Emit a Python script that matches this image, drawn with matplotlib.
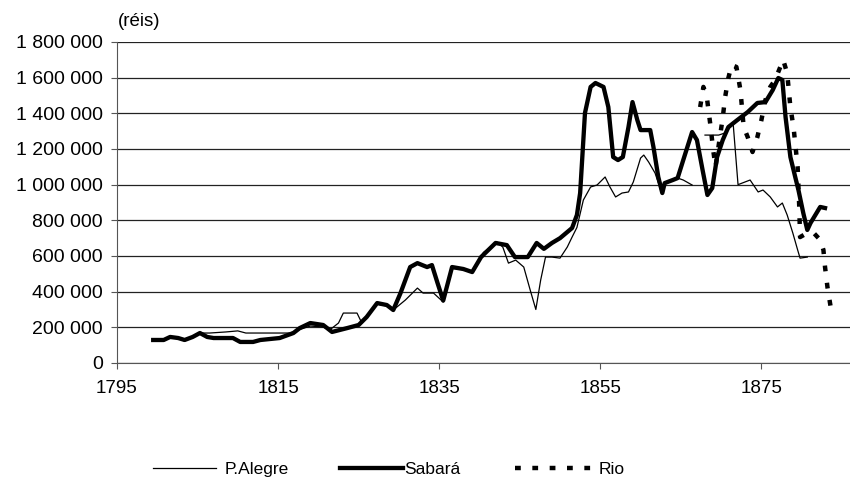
import numpy as np
import matplotlib
matplotlib.use('Agg')
import matplotlib.pyplot as plt
from matplotlib.ticker import FuncFormatter

plt.rcParams['font.family'] = ['Liberation Sans', 'DejaVu Sans']

# Sabará (thick line), values in thousand réis
sabara_years = [1799.5, 1800.8, 1801.6, 1802.6, 1803.4, 1804.4, 1805.3, 1806.2, 1807.0, 1809.4,
                1810.3, 1811.9, 1812.8, 1815.2, 1816.9, 1817.7, 1819.0, 1820.6, 1821.7, 1823.6,
                1825.0, 1826.0, 1827.3, 1828.5, 1829.3, 1830.2, 1831.4, 1832.3, 1833.5, 1834.1,
                1834.8, 1835.5, 1836.6, 1838.0, 1839.1, 1840.2, 1842.0, 1843.4, 1844.4, 1846.0,
                1847.1, 1848.0, 1849.0, 1850.0, 1851.5, 1852.1, 1852.5, 1853.1, 1853.8, 1854.4,
                1855.4, 1856.0, 1856.6, 1857.2, 1857.8, 1858.5, 1859.0, 1859.6, 1860.0, 1861.2,
                1861.6, 1862.2, 1862.7, 1863.0, 1864.0, 1864.6, 1865.3, 1866.4, 1867.0, 1867.7,
                1868.3, 1868.9, 1869.5, 1870.2, 1870.9, 1872.0, 1873.3, 1874.5, 1875.5, 1876.4,
                1877.1, 1877.6, 1878.0, 1878.6, 1879.2, 1879.6, 1880.2, 1880.7, 1881.1, 1881.7,
                1882.3, 1882.9]
sabara_vals = [129, 129, 146, 140, 129, 146, 168, 146, 140, 140,
               118, 118, 129, 140, 168, 196, 224, 213, 174, 196,
               213, 258, 336, 325, 297, 392, 538, 560, 538, 549,
               448, 350, 538, 527, 510, 594, 673, 661, 594, 594,
               673, 640, 673, 700, 757, 830, 953, 1402, 1548, 1570,
               1548, 1435, 1155, 1138, 1155, 1323, 1463, 1362, 1306, 1306,
               1211, 1043, 953, 1009, 1026, 1037, 1138, 1295, 1250, 1082,
               942, 981, 1155, 1250, 1323, 1362, 1407, 1458, 1463, 1530,
               1598, 1587, 1379, 1155, 1043, 970, 841, 746, 785, 830,
               875, 869]

# P.Alegre (thin line), gap after 1866
alegre_years = [1799.5, 1800.8, 1801.6, 1802.6, 1803.4, 1804.4, 1805.3, 1806.5, 1808.5, 1810.0,
                1811.0, 1816.5, 1817.5, 1819.0, 1820.6, 1821.4, 1822.5, 1823.1, 1824.8, 1825.4,
                1826.0, 1827.3, 1828.5, 1829.3, 1830.8, 1832.3, 1833.0, 1834.3, 1835.5, 1836.6,
                1838.0, 1839.1, 1840.5, 1842.2, 1842.9, 1843.6, 1844.5, 1845.5, 1846.3, 1847.0,
                1847.6, 1848.2, 1849.0, 1850.0, 1850.9, 1851.5, 1852.1, 1852.9, 1853.8, 1854.6,
                1855.6, 1856.2, 1856.9, 1857.7, 1858.5, 1859.1, 1860.0, 1860.4, 1861.0, 1861.8,
                1862.5, 1863.2, 1864.6, 1865.3, 1866.4, 1867.2, 1868.0, 1869.7, 1870.5, 1871.5,
                1872.1, 1873.6, 1874.6, 1875.2, 1876.1, 1877.0, 1877.6, 1878.2, 1878.9, 1879.5,
                1879.8, 1880.7]
alegre_vals = [129, 129, 146, 140, 129, 146, 168, 168, 174, 180,
               168, 168, 185, 207, 202, 185, 224, 280, 280, 224,
               258, 330, 320, 297, 353, 420, 392, 392, 342, 530,
               527, 510, 620, 678, 650, 560, 577, 538, 409, 300,
               465, 594, 594, 588, 650, 706, 760, 914, 987, 998,
               1043, 987, 931, 953, 959, 1015, 1149, 1166, 1127, 1065,
               970, 1010, 1037, 1026, 998, np.nan, 1278, 1278, 1290, 1340,
               1000, 1026, 959, 970, 931, 875, 897, 830, 729, 634,
               588, 594]

# Rio (dashed)
rio_years = [1867.4, 1867.8, 1868.2, 1868.7, 1869.0, 1869.3, 1870.2, 1870.5, 1870.9, 1871.3,
             1871.9, 1872.4, 1872.8, 1873.3, 1873.9, 1874.5, 1875.0, 1875.5, 1876.1, 1876.7,
             1877.7, 1878.2, 1878.6, 1879.0, 1879.5, 1879.7, 1879.8, 1880.7, 1881.5, 1882.3,
             1882.7, 1882.9, 1883.2, 1883.6]
rio_vals = [1435, 1548, 1500, 1323, 1200, 1099, 1374, 1491, 1598, 1671,
            1660, 1530, 1323, 1267, 1183, 1267, 1362, 1475, 1548, 1587,
            1700, 1626, 1435, 1318, 1099, 875, 706, 729, 729, 690,
            634, 538, 426, 314]

x_ticks = [1795, 1815, 1835, 1855, 1875]
y_ticks = list(range(0, 1800001, 200000))


def fmt_reis(v, pos):
    return f'{int(v):,}'.replace(',', ' ')


def add_key(fig, handle, x, length, pad):
    # one legend per entry, the reference spaces them unevenly
    leg = fig.legend(handles=[handle], loc='center left', bbox_to_anchor=(x, 0.049),
                     frameon=False, fontsize=12.5, borderpad=0, borderaxespad=0,
                     handlelength=length, handletextpad=pad)
    return leg


def main():
    fig = plt.figure(figsize=(8.5, 4.94), dpi=100)
    ax = fig.add_axes([0.1376, 0.2652, 0.8624, 0.6498])

    l1, = ax.plot(alegre_years, np.array(alegre_vals) * 1000, color='black', lw=0.9,
                  label='P.Alegre')
    l2, = ax.plot(sabara_years, np.array(sabara_vals) * 1000, color='black', lw=3.1,
                  label='Sabará')
    l3, = ax.plot(rio_years, np.array(rio_vals) * 1000, color='black', lw=3.2,
                  linestyle=(0, (1.3, 2.6)), label='Rio')

    ax.set_xlim(1795, 1886)
    ax.set_ylim(0, 1800000)
    ax.set_xticks(x_ticks)
    ax.set_yticks(y_ticks)
    ax.yaxis.set_major_formatter(FuncFormatter(fmt_reis))
    ax.yaxis.grid(True, color='#222222', lw=0.9)
    ax.set_axisbelow(True)
    for s in ['top', 'right']:
        ax.spines[s].set_visible(False)
    ax.spines['left'].set_color('#555555')
    ax.spines['bottom'].set_color('#555555')
    ax.tick_params(axis='both', labelsize=13.5, length=4, width=0.8, color='#555555')
    ax.tick_params(axis='y', labelsize=14, pad=6)
    ax.tick_params(axis='x', pad=8)

    fig.text(0.139, 0.94, '(réis)', fontsize=13.5, ha='left', va='bottom')

    add_key(fig, l1, 153 / 850, 3.6, 0.55)
    add_key(fig, l2, 340 / 850, 3.6, 0.1)
    add_key(fig, l3, 515 / 850, 4.6, 0.2)

    fig.savefig('out.png', dpi=100)


if __name__ == '__main__':
    main()
